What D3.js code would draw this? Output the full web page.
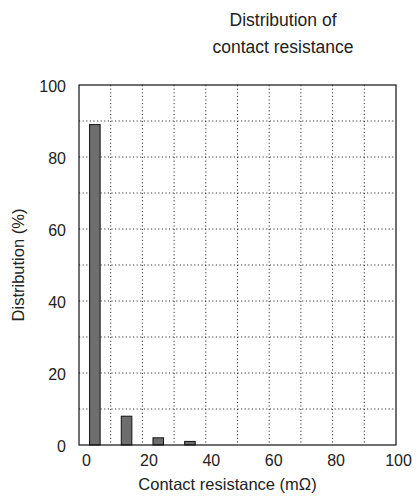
<!DOCTYPE html>
<html>
<head>
<meta charset="utf-8">
<script src="https://cdn.jsdelivr.net/npm/d3@7"></script>
<style>
  html, body { margin: 0; padding: 0; background: #fff; }
  svg { display: block; font-family: "Liberation Sans", Arial, sans-serif; }
</style>
</head>
<body>
<svg id="chart" width="419" height="500"></svg>
<script>
const binCenters = [5, 15, 25, 35];
const distribution = [89, 8, 2, 1];
const xTicks = [0, 20, 40, 60, 80, 100];
const yTicks = [0, 20, 40, 60, 80, 100];
const xGrid = [10, 20, 30, 40, 50, 60, 70, 80, 90];
const yGrid = [10, 20, 30, 40, 50, 60, 70, 80, 90];
const titleLines = ["Distribution of", "contact resistance"];
const xTitle = "Contact resistance (mΩ)";
const yTitle = "Distribution (%)";

const svg = d3.select("#chart");
const L = 79, R = 396, T = 85, B = 445;

const x = d3.scaleLinear().domain([0, 100]).range([L, R]);
const xLabel = d3.scaleLinear().domain([0, 100]).range([L + 7, R + 2]);
const y = d3.scaleLinear().domain([0, 100]).range([B, T]);

// grid
svg.append("g").selectAll("line").data(xGrid).join("line")
  .attr("x1", d => x(d)).attr("x2", d => x(d))
  .attr("y1", T).attr("y2", B)
  .attr("stroke", "#333").attr("stroke-width", 1)
  .attr("stroke-dasharray", "1.2,2.4");
svg.append("g").selectAll("line").data(yGrid).join("line")
  .attr("y1", d => y(d)).attr("y2", d => y(d))
  .attr("x1", L).attr("x2", R)
  .attr("stroke", "#333").attr("stroke-width", 1)
  .attr("stroke-dasharray", "1.2,2.4");

// bars
const bw = (x(10) - x(0)) / 3;
svg.append("g").selectAll("rect").data(distribution).join("rect")
  .attr("x", (d, i) => x(binCenters[i]) - bw / 2)
  .attr("width", bw)
  .attr("y", d => y(d))
  .attr("height", d => y(0) - y(d))
  .attr("fill", "#6e6e6e")
  .attr("stroke", "#111").attr("stroke-width", 1);

// frame
svg.append("rect").attr("x", L).attr("y", T).attr("width", R - L).attr("height", B - T)
  .attr("fill", "none").attr("stroke", "#111").attr("stroke-width", 1.2);

// axes labels
const xAxis = d3.axisBottom(xLabel).tickValues(xTicks).tickSize(0).tickPadding(0);
const gx = svg.append("g").attr("transform", `translate(0,${B + 21})`).call(xAxis);
gx.select(".domain").remove();
gx.selectAll("text").attr("font-size", 16).attr("fill", "#222")
  .attr("font-family", "Liberation Sans, Arial, sans-serif").attr("dy", 0);

const yAxis = d3.axisLeft(y).tickValues(yTicks).tickSize(0).tickPadding(13);
const gy = svg.append("g").attr("transform", `translate(${L},1)`).call(yAxis);
gy.select(".domain").remove();
gy.selectAll("text").attr("font-size", 16).attr("fill", "#222")
  .attr("font-family", "Liberation Sans, Arial, sans-serif");

// titles
svg.append("g").selectAll("text").data(titleLines).join("text")
  .attr("x", 283).attr("y", (d, i) => 26 + i * 27)
  .attr("text-anchor", "middle").attr("font-size", 17.5).attr("fill", "#222")
  .text(d => d);

svg.append("text").attr("x", (L + R) / 2 - 10).attr("y", 490)
  .attr("text-anchor", "middle").attr("font-size", 16.5).attr("fill", "#222")
  .text(xTitle);

svg.append("text")
  .attr("transform", `translate(24,${(T + B) / 2}) rotate(-90)`)
  .attr("text-anchor", "middle").attr("font-size", 16.5).attr("fill", "#222")
  .text(yTitle);
</script>
</body>
</html>
